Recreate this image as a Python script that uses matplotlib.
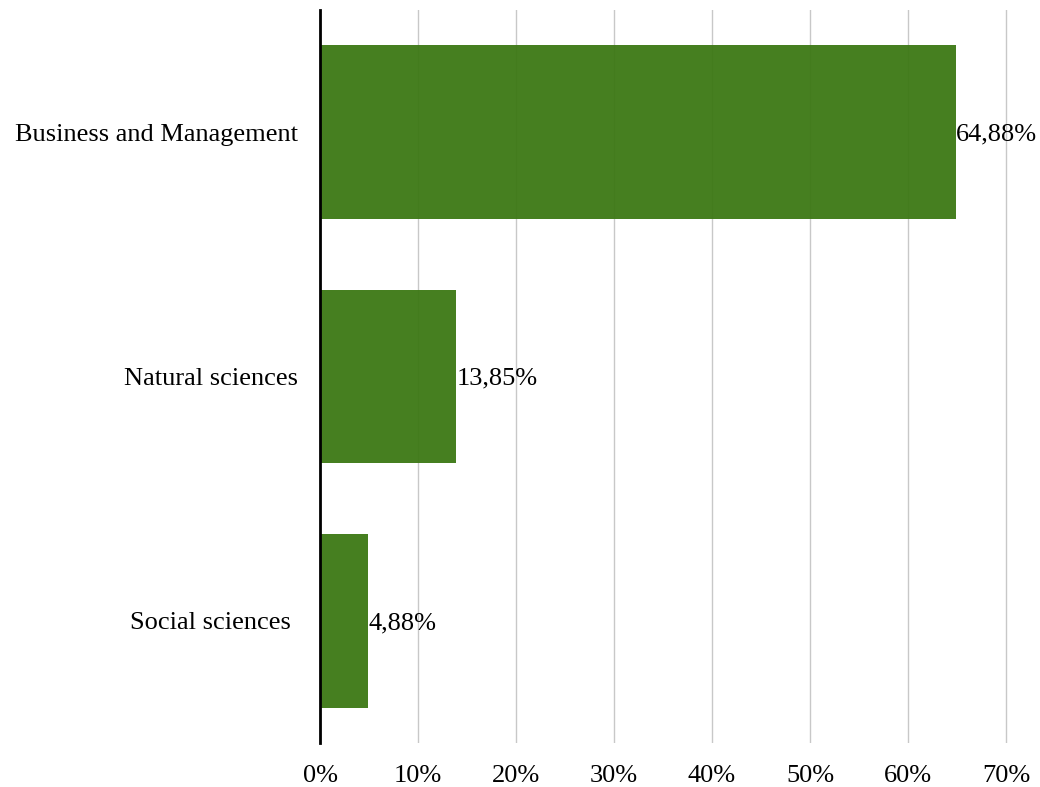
import matplotlib.pyplot as plt
from matplotlib.ticker import FuncFormatter

categories = ["Business and Management", "Natural sciences", "Social sciences "]
values = [64.88, 13.85, 4.88]
ticks = [0, 10, 20, 30, 40, 50, 60, 70]

plt.rcParams['font.family'] = ['Liberation Serif', 'DejaVu Serif']

fig = plt.figure(figsize=(10.4, 7.87), dpi=100)
ax = fig.add_axes([320 / 1040, 1 - 743 / 787, 688 / 1040, 733 / 787])

ypos = list(range(len(categories)))
ax.barh(ypos, values, height=0.71, color='#3c7814', alpha=0.95, zorder=2)

# value labels just right of each bar
for y, v in zip(ypos, values):
    ax.text(v + 0.05, y + 0.01, ("%.2f%%" % v).replace(".", ","), va='center', ha='left',
            fontsize=19, color='black', zorder=3)

ax.set_yticks(ypos)
ax.set_yticklabels(categories, fontsize=19)
ax.set_ylim(2.5, -0.5)
ax.set_xlim(0, 70.2)
ax.set_xticks(ticks)
ax.xaxis.set_major_formatter(FuncFormatter(lambda x, p: "%d%%" % x))
ax.tick_params(axis='x', labelsize=19, length=0, pad=16)
ax.tick_params(axis='y', length=0, pad=16)

ax.grid(axis='x', color='#c8c8c8', linewidth=1, zorder=1)
ax.set_axisbelow(True)
for s in ['top', 'right', 'bottom']:
    ax.spines[s].set_visible(False)
ax.spines['left'].set_linewidth(2)
ax.spines['left'].set_zorder(4)

fig.savefig("out.png", dpi=100)
